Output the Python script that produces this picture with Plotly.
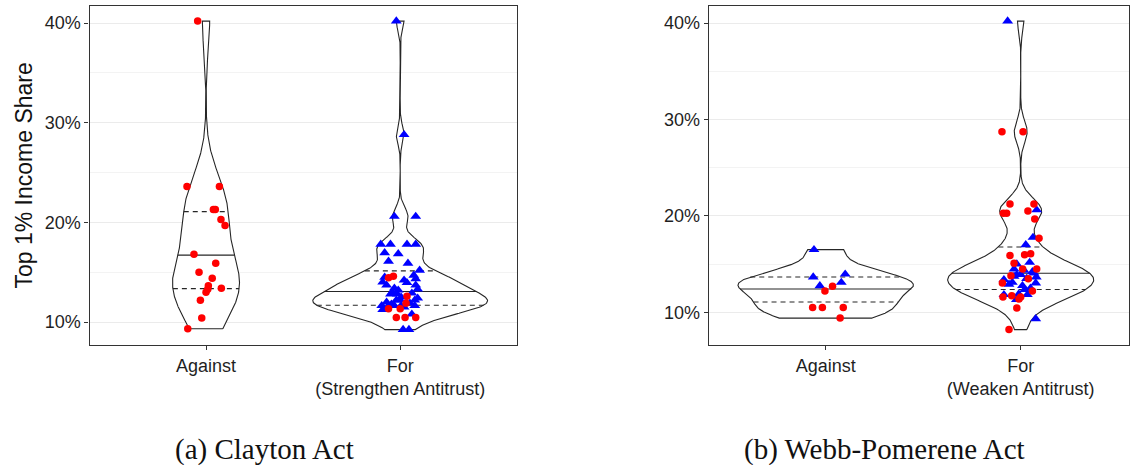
import numpy as np
import plotly.graph_objects as go

# ---- data: top 1% income share (%) of each legislator's state, with horizontal jitter ----
categories = ["Against", "For"]
clayton_ticktext = ["Against", "For<br>(Strengthen Antitrust)"]
webb_ticktext = ["Against", "For<br>(Weaken Antitrust)"]

# Clayton Act, voted against
clayton_against_red_y = [40.2, 23.6, 23.6, 21.3, 21.3, 20.3, 19.7, 16.8, 15.9, 15.0,
                         14.4, 13.65, 13.3, 13.0, 13.4, 12.2, 10.4, 9.34]
clayton_against_red_dx = [-0.043, -0.098, 0.069, 0.038, 0.048, 0.077, 0.098, -0.062, 0.05, -0.036,
                          0.032, 0.012, 0.009, 0.0, 0.079, -0.029, -0.022, -0.094]

# Clayton Act, voted for
clayton_for_blue_y = [40.2, 28.8, 20.6, 20.6, 17.8, 17.8, 17.8, 17.8, 16.95, 16.85,
                      16.1, 15.9, 15.2, 14.7, 14.35, 14.5, 14.0, 14.2, 13.7, 13.7,
                      13.95, 13.3, 12.8, 13.2, 12.8, 12.5, 11.65, 11.65, 11.25, 11.65,
                      11.65, 11.65, 12.2, 9.25, 9.25, 13.0, 12.2,
                      12.0, 11.9, 12.4, 11.5, 12.9, 13.4, 11.8, 12.2, 10.8]
clayton_for_blue_dx = [-0.02, 0.02, -0.03, 0.08, -0.10, -0.05, 0.035, 0.08, -0.08, -0.01,
                       -0.06, 0.04, 0.10, 0.07, 0.08, -0.08, -0.09, 0.02, -0.07, 0.08,
                       0.035, 0.09, -0.05, -0.01, -0.015, 0.005, -0.095, -0.06, -0.09, -0.03,
                       0.005, 0.075, 0.075, 0.015, 0.045, -0.04, -0.02,
                       -0.07, 0.05, 0.09, 0.02, 0.06, -0.03, -0.045, 0.0, 0.06]
clayton_for_red_y = [14.45, 14.6, 12.6, 11.35, 11.35, 10.45, 10.45, 10.45, 11.9]
clayton_for_red_dx = [-0.06, -0.035, 0.035, -0.06, 0.0, -0.02, 0.025, 0.08, 0.03]

# Webb-Pomerene Act, voted against
webb_against_blue_y = [16.5, 13.65, 13.95, 12.75, 13.1]
webb_against_blue_dx = [-0.06, -0.064, 0.10, -0.03, 0.08]
webb_against_red_y = [12.7, 12.2, 10.5, 10.5, 10.5, 9.4]
webb_against_red_dx = [0.035, -0.004, -0.067, -0.017, 0.09, 0.074]

# Webb-Pomerene Act, voted for
webb_for_blue_y = [40.2, 20.62, 17.76, 17.0, 15.17, 14.49, 14.35, 13.9, 14.07, 13.66,
                   13.04, 13.72, 13.9, 13.38, 13.1, 12.76, 12.35, 11.83, 11.83, 11.31, 9.32,
                   12.5, 12.9, 13.5, 11.9, 14.2, 15.0]
webb_for_blue_dx = [-0.067, 0.082, 0.063, 0.026, 0.046, -0.034, 0.017, 0.0, 0.068, 0.08,
                    0.077, -0.034, -0.02, -0.086, -0.043, 0.009, 0.02, 0.034, -0.086, -0.022, 0.077,
                    0.05, -0.06, 0.03, -0.01, 0.06, -0.02]
webb_for_red_y = [28.72, 28.72, 21.24, 21.24, 20.28, 20.28, 20.52, 19.69, 17.69, 15.9,
                  15.96, 16.07, 15.1, 14.49, 14.5, 13.48, 13.04, 11.59, 11.73, 11.59,
                  11.38, 10.45, 8.21, 12.2, 13.8]
webb_for_red_dx = [-0.096, 0.012, -0.055, 0.068, -0.089, -0.072, 0.037, 0.072, 0.094, -0.055,
                   0.02, 0.051, -0.034, 0.082, 0.01, 0.039, -0.094, -0.091, -0.046, 0.0,
                   -0.009, -0.02, -0.06, 0.06, -0.05]

y_ticks = [10, 20, 30, 40]
y_ticktext = [f"{v}%" for v in y_ticks]
y_minor = [15, 25, 35]
quantile_levels = [0.25, 0.5, 0.75]

# ---- helpers ----
def kde_trimmed(values, n=512):
    v = np.asarray(values, dtype=float)
    sd = v.std(ddof=1)
    iqr = np.percentile(v, 75) - np.percentile(v, 25)
    lo = min(sd, iqr / 1.34) if iqr > 0 else sd
    bw = 0.9 * lo * len(v) ** -0.2
    grid = np.linspace(v.min(), v.max(), n)
    z = (grid[:, None] - v[None, :]) / bw
    dens = np.exp(-0.5 * z ** 2).sum(axis=1) / (len(v) * bw * np.sqrt(2 * np.pi))
    return grid, dens


def add_panel(fig, groups, xref, yref):
    # groups: list of (center, y-values); widths scaled by the panel's peak density
    fits = [(c, *kde_trimmed(vals)) for c, vals in groups]
    peak = max(d.max() for _, _, d in fits)
    for center, grid, dens in fits:
        half = 0.45 * dens / peak
        xs = np.concatenate([center + half, (center - half)[::-1], [center + half[0]]])
        ys = np.concatenate([grid, grid[::-1], [grid[0]]])
        fig.add_trace(go.Scatter(x=xs, y=ys, mode="lines", fill="toself",
                                 fillcolor="white", line=dict(color="#262626", width=1.1),
                                 hoverinfo="skip", showlegend=False,
                                 xaxis=xref, yaxis=yref))
        cdf = np.cumsum(dens) / dens.sum()
        for q in quantile_levels:
            yq = float(np.interp(q, cdf, grid))
            wq = float(np.interp(yq, grid, half))
            fig.add_trace(go.Scatter(x=[center - wq, center + wq], y=[yq, yq], mode="lines",
                                     line=dict(color="#262626", width=1.1,
                                               dash="solid" if q == 0.5 else "5px,4px"),
                                     hoverinfo="skip", showlegend=False,
                                     xaxis=xref, yaxis=yref))


def add_points(fig, center, ys, dxs, color, symbol, size, xref, yref):
    if not ys:
        return
    fig.add_trace(go.Scatter(x=[center + d for d in dxs], y=ys, mode="markers",
                             marker=dict(color=color, symbol=symbol, size=size,
                                         line=dict(width=0)),
                             showlegend=False, xaxis=xref, yaxis=yref))


fig = go.Figure()

# Clayton Act panel
add_panel(fig, [(1, clayton_against_red_y),
                (2, clayton_for_blue_y + clayton_for_red_y)], "x", "y")
add_points(fig, 1, clayton_against_red_y, clayton_against_red_dx, "#ff0000", "circle", 7.5, "x", "y")
add_points(fig, 2, clayton_for_blue_y, clayton_for_blue_dx, "#0000ff", "triangle-up", 9.5, "x", "y")
add_points(fig, 2, clayton_for_red_y, clayton_for_red_dx, "#ff0000", "circle", 7.5, "x", "y")

# Webb-Pomerene Act panel
add_panel(fig, [(1, webb_against_blue_y + webb_against_red_y),
                (2, webb_for_blue_y + webb_for_red_y)], "x2", "y2")
add_points(fig, 1, webb_against_blue_y, webb_against_blue_dx, "#0000ff", "triangle-up", 9.5, "x2", "y2")
add_points(fig, 1, webb_against_red_y, webb_against_red_dx, "#ff0000", "circle", 7.5, "x2", "y2")
add_points(fig, 2, webb_for_blue_y, webb_for_blue_dx, "#0000ff", "triangle-up", 9.5, "x2", "y2")
add_points(fig, 2, webb_for_red_y, webb_for_red_dx, "#ff0000", "circle", 7.5, "x2", "y2")

# ---- layout ----
W, H = 1130, 465
def px_x(p):
    return p / W

def px_y(p):
    return 1 - p / H

def y_range(all_vals):
    lo, hi = min(all_vals), max(all_vals)
    pad = 0.05 * (hi - lo)
    return [lo - pad, hi + pad]

tick_font = dict(family="Liberation Sans, Arial, sans-serif", size=18, color="#1f1f1f")
common_x = dict(tickmode="array", tickvals=[1, 2], showgrid=False, zeroline=False,
                showline=True, mirror=True, linecolor="#333333", linewidth=1.2,
                ticks="outside", ticklen=4, tickcolor="#333333", tickwidth=1.2,
                tickfont=tick_font)
common_y = dict(tickmode="array", tickvals=y_ticks, ticktext=y_ticktext, showgrid=True,
                gridcolor="#ebebeb", gridwidth=1.1, zeroline=False,
                showline=True, mirror=True, linecolor="#333333", linewidth=1.2,
                ticks="outside", ticklen=4, tickcolor="#333333", tickwidth=1.2,
                tickfont=tick_font,
                minor=dict(tickmode="array", tickvals=y_minor, showgrid=True,
                           gridcolor="#f3f3f3", gridwidth=0.6, ticks=""))

clayton_all = clayton_against_red_y + clayton_for_blue_y + clayton_for_red_y
webb_all = webb_against_blue_y + webb_against_red_y + webb_for_blue_y + webb_for_red_y

fig.update_layout(
    width=W, height=H, margin=dict(l=0, r=0, t=0, b=0),
    paper_bgcolor="white", plot_bgcolor="white",
    xaxis=dict(common_x, domain=[px_x(89.5), px_x(516.7)], range=[0.4, 2.6],
               ticktext=clayton_ticktext, anchor="y"),
    yaxis=dict(common_y, domain=[px_y(345), px_y(5.7)], range=y_range(clayton_all),
               anchor="x"),
    xaxis2=dict(common_x, domain=[px_x(708.7), px_x(1129)],
                range=[0.4, 0.4 + (1129 - 708.7) / 195.0],
                ticktext=webb_ticktext, anchor="y2"),
    yaxis2=dict(common_y, domain=[px_y(345), px_y(5.7)], range=y_range(webb_all),
                anchor="x2"),
    annotations=[
        dict(text="Top 1% Income Share", textangle=-90, x=px_x(23), y=px_y(175.5),
             xref="paper", yref="paper", xanchor="center", yanchor="middle",
             showarrow=False,
             font=dict(family="Liberation Sans, Arial, sans-serif", size=23, color="#111111")),
        dict(text="(a) Clayton Act", x=px_x(264), y=px_y(449), xref="paper", yref="paper",
             xanchor="center", yanchor="middle", showarrow=False,
             font=dict(family="Liberation Serif, Times New Roman, serif", size=29, color="#111111")),
        dict(text="(b) Webb-Pomerene Act", x=px_x(884), y=px_y(449), xref="paper", yref="paper",
             xanchor="center", yanchor="middle", showarrow=False,
             font=dict(family="Liberation Serif, Times New Roman, serif", size=29, color="#111111")),
    ],
)

fig.write_html("out.html")
